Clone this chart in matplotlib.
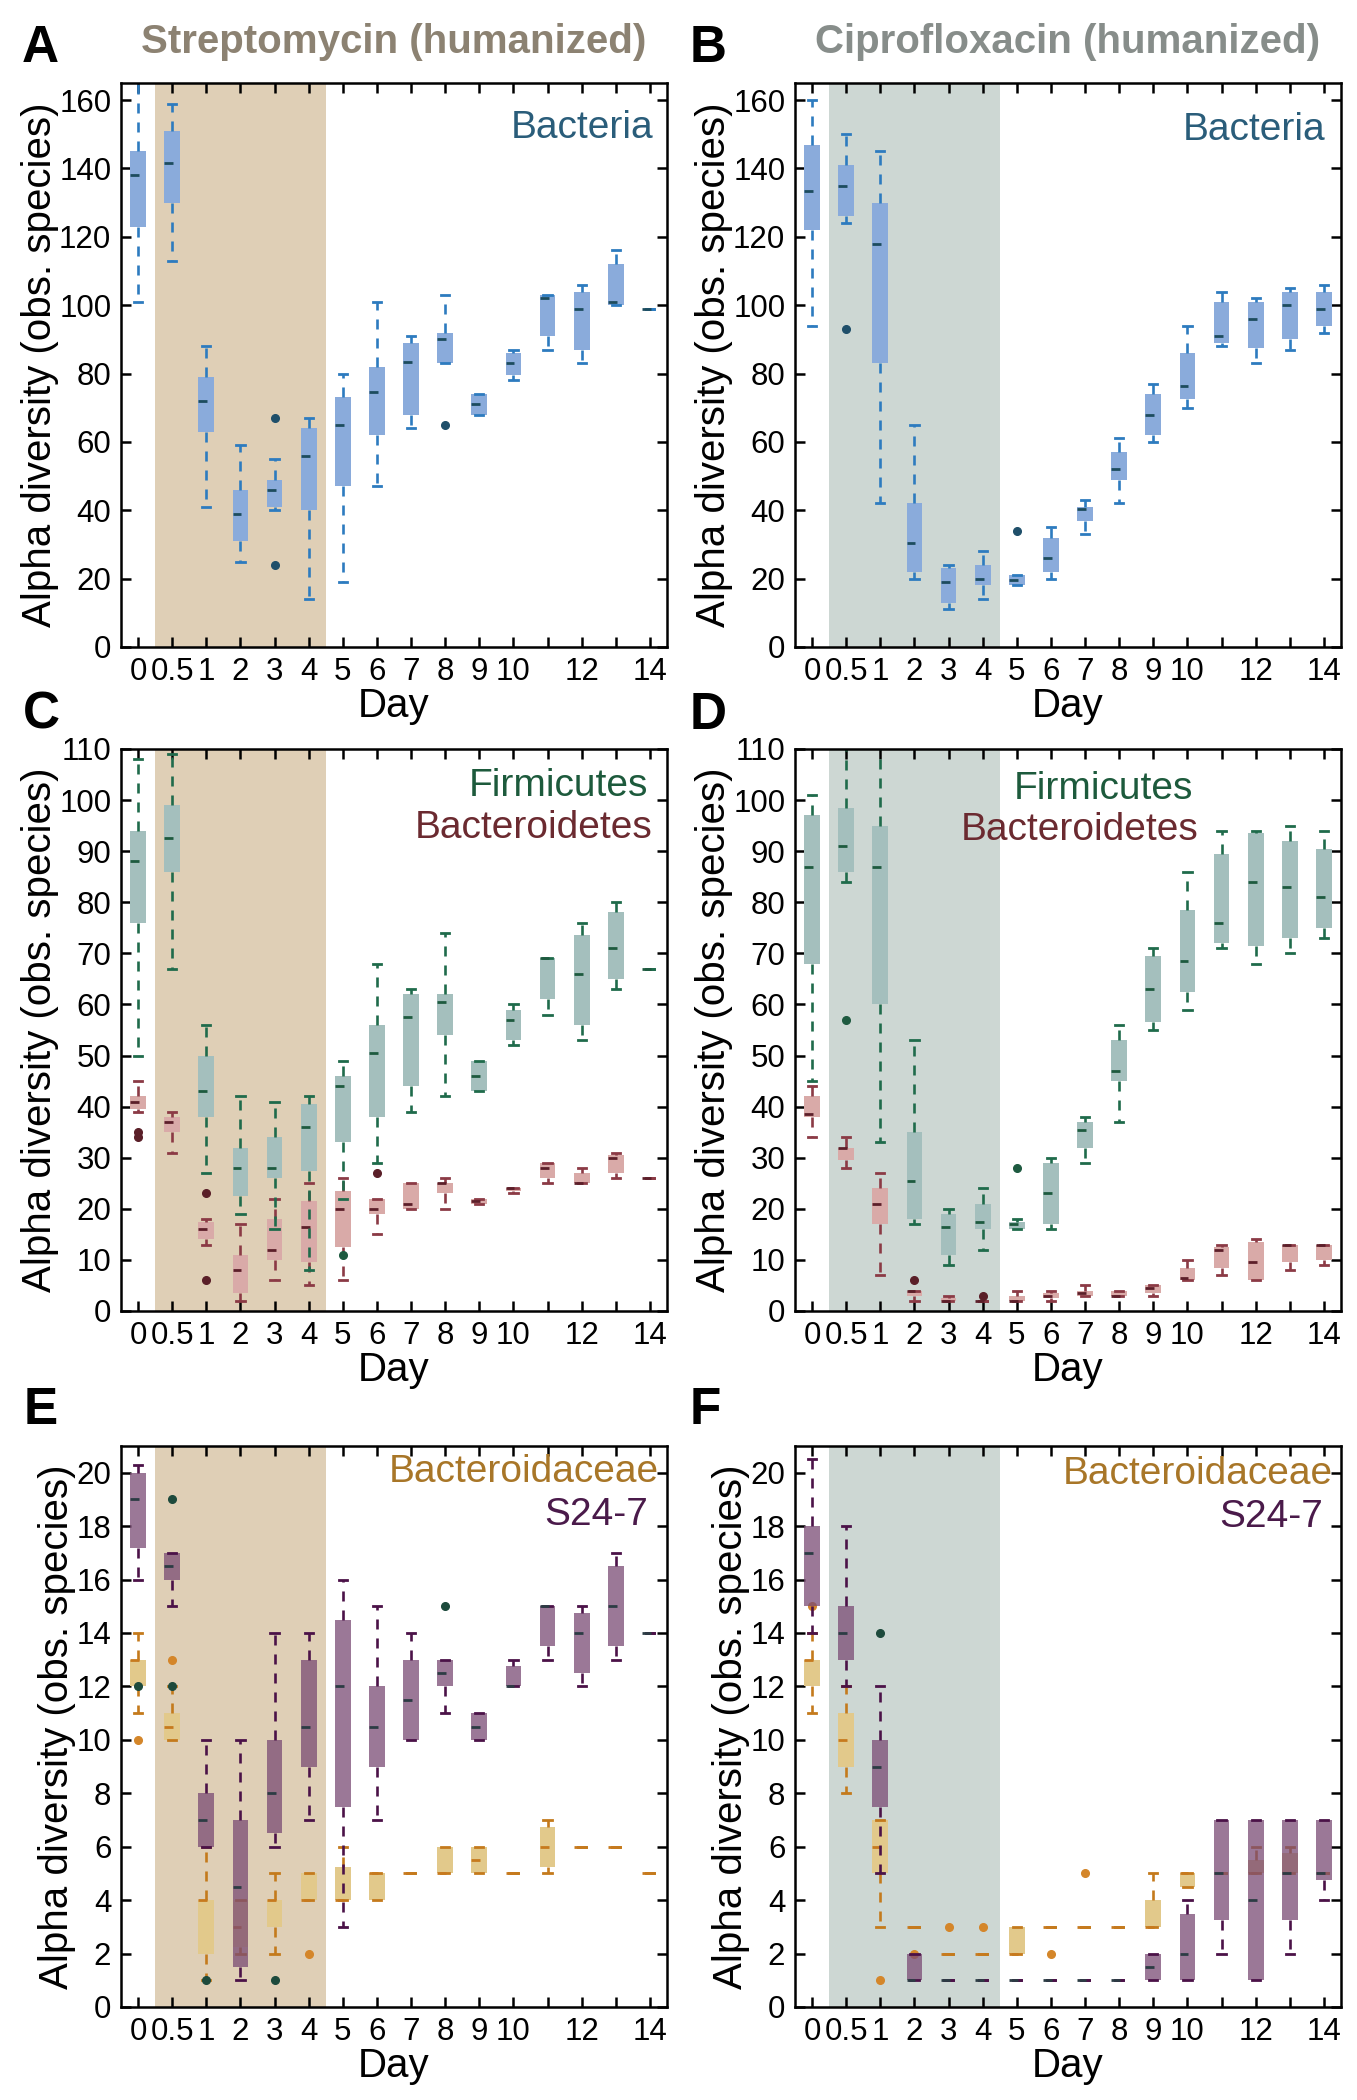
import numpy as np
import matplotlib
matplotlib.use('Agg')
import matplotlib.pyplot as plt

plt.rcParams['font.family'] = ['Liberation Sans', 'DejaVu Sans']

# Eixo x: dias (categorias igualmente espaçadas)
days = ['0', '0.5', '1', '2', '3', '4', '5', '6', '7', '8', '9', '10', '11', '12', '13', '14']
day_labels = ['0', '0.5', '1', '2', '3', '4', '5', '6', '7', '8', '9', '10', '', '12', '', '14']

# A - Streptomycin, Bacteria
sa_lo = [101, 113, 41, 25, 40, 14, 19, 47, 64, 83, 68, 78, 87, 83, 100, 99]
sa_q1 = [123, 130, 63, 31, 41, 40, 47, 62, 68, 83, 68, 79.5, 91, 87, 100, 99]
sa_med = [138, 141.5, 72, 39, 46, 56, 65, 74.5, 83.5, 90, 71, 83, 102, 99, 101, 99]
sa_q3 = [145, 151, 79, 46, 49, 64, 73, 82, 89, 92, 74, 86, 103, 104, 112, 99]
sa_hi = [170, 159, 88, 59, 55, 67, 80, 101, 91, 103, 74, 87, 103, 106, 116, 99]
sa_out = [[], [], [], [], [67, 24], [], [], [], [], [65], [], [], [], [], [], []]

# B - Ciprofloxacin, Bacteria
cb_lo = [94, 124, 42, 20, 11, 14, 18, 20, 33, 42, 60, 70, 88, 83, 87, 92]
cb_q1 = [122, 126, 83, 22, 13, 18, 18, 22, 37, 49, 62, 72.5, 89, 87.5, 90, 94]
cb_med = [133.5, 135, 118, 30.5, 19, 20, 19.5, 26, 40.5, 52, 68, 76.5, 91, 96, 100, 99]
cb_q3 = [147, 141, 130, 42, 23, 24, 21, 32, 41, 57, 74, 86, 101, 101, 104, 104]
cb_hi = [160, 150, 145, 65, 24, 28, 21, 35, 43, 61, 77, 94, 104, 102, 105, 106]
cb_out = [[], [93], [], [], [], [], [34], [], [], [], [], [], [], [], [], []]

# C - Streptomycin, Firmicutes
sf_lo = [50, 67, 27, 19, 16, 8, 22, 29, 39, 42, 43, 52, 58, 53, 63, 67]
sf_q1 = [76, 86, 38, 22.5, 26, 27.5, 33, 38, 44, 54, 43, 53, 61, 56, 65, 67]
sf_med = [88, 92.5, 43, 28, 28, 36, 44, 50.5, 57.5, 60.5, 46, 57, 69, 66, 71, 67]
sf_q3 = [94, 99, 50, 32, 34, 40.5, 46, 56, 62, 62, 49, 59, 69, 73.5, 78, 67]
sf_hi = [108, 109, 56, 42, 41, 42, 49, 68, 63, 74, 49, 60, 69, 76, 80, 67]
sf_out = [[], [], [], [], [], [], [11], [], [], [], [], [], [], [], [], []]

# C - Streptomycin, Bacteroidetes
sb_lo = [39, 31, 13, 2, 6, 5, 6, 15, 20, 20, 21, 23, 25, 25, 26, 26]
sb_q1 = [39.5, 35, 14, 3.5, 10, 9.5, 12.5, 19, 20, 23, 21, 23.5, 26, 25, 27, 26]
sb_med = [41, 37, 16, 8, 12, 16.5, 20, 20, 21, 25, 21.5, 24, 28, 25, 30, 26]
sb_q3 = [42, 38, 17.5, 11, 18, 21.5, 23.5, 22, 25, 25, 22, 24, 29, 27, 30.5, 26]
sb_hi = [45, 39, 18, 17, 22, 25, 26, 22, 25, 26, 22, 24, 29, 28, 31, 26]
sb_out = [[35, 34], [], [23, 6], [], [], [], [], [27], [], [], [], [], [], [], [], []]

# D - Ciprofloxacin, Firmicutes
cf_lo = [45, 84, 33, 17, 9, 12, 16, 16, 29, 37, 55, 59, 71, 68, 70, 73]
cf_q1 = [68, 86, 60, 18, 11, 16, 16, 17, 32, 45, 56.5, 62.5, 72, 71.5, 73, 75]
cf_med = [87, 91, 87, 25.5, 16.5, 17.5, 17, 23, 35.5, 47, 63, 68.5, 76, 84, 83, 81]
cf_q3 = [97, 98.5, 95, 35, 19, 21, 17.5, 29, 37, 53, 69.5, 78.5, 89.5, 93.5, 92, 90.5]
cf_hi = [101, 115, 115, 53, 20, 24, 18, 30, 38, 56, 71, 86, 94, 94, 95, 94]
cf_out = [[], [57], [], [], [], [], [28], [], [], [], [], [], [], [], [], []]

# D - Ciprofloxacin, Bacteroidetes
cd_lo = [34, 28, 7, 2, 2, 2, 2, 2, 3, 3, 3, 6, 7, 6, 8, 9]
cd_q1 = [38, 29.5, 17, 3, 2, 2, 2, 2.5, 3, 3, 3.5, 6, 8.5, 6, 9.5, 10]
cd_med = [38.5, 32, 21, 4, 2, 2, 2, 3, 3.5, 3, 4.5, 6.5, 12, 9.5, 13, 13]
cd_q3 = [42, 32, 24, 4, 2.5, 2, 3, 3.5, 4, 4, 5, 8.5, 12.5, 13.5, 13, 13]
cd_hi = [44, 34, 27, 4, 3, 2, 4, 4, 5, 4, 5, 10, 13, 14, 13, 13]
cd_out = [[], [], [], [6], [], [3], [], [], [], [], [], [], [], [], [], []]

# E - Streptomycin, S24-7
ss_lo = [16, 15, 6, 1, 6, 7, 3, 7, 10, 11, 10, 12, 13, 12, 13, 14]
ss_q1 = [17.2, 16, 6, 1.5, 6.5, 9, 7.5, 9, 10, 12, 10, 12, 13.5, 12.5, 13.5, 14]
ss_med = [19, 16.5, 7, 4.5, 8, 10.5, 12, 10.5, 11.5, 12.5, 10.5, 12, 15, 14, 15, 14]
ss_q3 = [20, 17, 8, 7, 10, 13, 14.5, 12, 13, 13, 11, 12.75, 15, 14.75, 16.5, 14]
ss_hi = [20.3, 17, 10, 10, 14, 14, 16, 15, 14, 13, 11, 13, 15, 15, 17, 14]
ss_out = [[12], [19, 12], [1], [], [1], [], [], [], [], [15], [], [], [], [], [], []]

# E - Streptomycin, Bacteroidaceae
sy_lo = [11, 10, 1, 2, 2, 4, 4, 4, 5, 5, 5, 5, 5, 6, 6, 5]
sy_q1 = [12, 10, 2, 2.25, 3, 4, 4, 4, 5, 5, 5, 5, 5.25, 6, 6, 5]
sy_med = [13, 10.5, 4, 3, 4, 4, 4, 5, 5, 5, 5.5, 5, 6, 6, 6, 5]
sy_q3 = [13, 11, 4, 4, 4, 5, 5.25, 5, 5, 6, 6, 5, 6.75, 6, 6, 5]
sy_hi = [14, 12, 6, 4, 5, 5, 6, 5, 5, 6, 6, 5, 7, 6, 6, 5]
sy_out = [[10], [13], [], [], [], [2], [], [], [], [], [], [], [], [], [], []]

# F - Ciprofloxacin, S24-7
cs_lo = [14, 12, 5, 1, 1, 1, 1, 1, 1, 1, 1, 1, 2, 1, 2, 4]
cs_q1 = [15, 13, 7.5, 1, 1, 1, 1, 1, 1, 1, 1, 1, 3.25, 1, 3.25, 4.75]
cs_med = [17, 14, 9, 1, 1, 1, 1, 1, 1, 1, 1.5, 2, 5, 4, 5, 5]
cs_q3 = [18, 15, 10, 2, 1, 1, 1, 1, 1, 1, 2, 3.5, 7, 7, 7, 7]
cs_hi = [20.5, 18, 12, 2, 1, 1, 1, 1, 1, 1, 2, 4, 7, 7, 7, 7]
cs_out = [[], [], [14], [], [], [], [], [], [], [], [], [], [], [], [], []]

# F - Ciprofloxacin, Bacteroidaceae
cy_lo = [11, 8, 3, 3, 2, 2, 2, 3, 3, 3, 3, 4.5, 5, 5, 5, 5]
cy_q1 = [12, 9, 5, 3, 2, 2, 2, 3, 3, 3, 3, 4.5, 5, 5, 5, 5]
cy_med = [13, 10, 6, 3, 2, 2, 2, 3, 3, 3, 3, 5, 5, 5, 5, 5]
cy_q3 = [13, 11, 7, 3, 2, 2, 3, 3, 3, 3, 4, 5, 5, 5.5, 5.75, 5]
cy_hi = [14, 12, 7, 3, 2, 2, 3, 3, 3, 3, 5, 5, 5, 6, 6, 5]
cy_out = [[15], [], [1], [2], [3], [3], [], [2], [5], [], [], [], [], [], [], []]

# Cores
cores = {
    'bact': dict(face='#8aabdb', line='#2d7bbf', med='#1d4c5e', flier='#1f4f6a', alpha=1.0),
    'firm': dict(face='#a4bfbd', line='#1f6b4b', med='#1e5a3f', flier='#1e5a40', alpha=1.0),
    'bcto': dict(face='#d9aaa8', line='#8b3a45', med='#5c1f2a', flier='#5a1f28', alpha=1.0),
    'bcae': dict(face='#e2c98b', line='#c47a1c', med='#c77a1e', flier='#d4862a', alpha=1.0),
    's247': dict(face='#7a4b74', line='#4b1248', med='#2c3c44', flier='#1d4a3c', alpha=0.75),
}
shade_strep = '#dfcfb6'
shade_cipro = '#cdd7d3'

W, H = 1357, 2100
BW = 0.46


def desenha_serie(ax, lo, q1, med, q3, hi, out, c):
    pos = np.arange(len(days))
    stats = []
    for i in range(len(days)):
        stats.append(dict(whislo=lo[i], q1=q1[i], med=med[i], q3=q3[i], whishi=hi[i], fliers=out[i]))
    ax.bxp(stats, positions=pos, widths=BW, patch_artist=True, manage_ticks=False,
           capwidths=0.24,
           boxprops=dict(facecolor=c['face'], edgecolor='none', linewidth=0, alpha=c['alpha']),
           whiskerprops=dict(color=c['line'], linewidth=1.9, linestyle=(0, (3.8, 3.4))),
           capprops=dict(color=c['line'], linewidth=2.0),
           medianprops=dict(visible=False),
           flierprops=dict(marker='o', markerfacecolor=c['flier'], markeredgecolor=c['flier'],
                           markersize=5.5, linestyle='none'))
    # mediana: do lado esquerdo da caixa até o centro
    ax.hlines(med, pos - BW / 2, pos + 0.03, colors=c['med'], linewidth=2.0, zorder=2)


def prepara_eixo(ax, ymax, yticks, shade):
    ax.axvspan(0.5, 5.5, color=shade, lw=0, zorder=0)
    ax.set_xlim(-0.5, 15.5)
    ax.set_ylim(0, ymax)
    ax.set_xticks(np.arange(len(days)))
    ax.set_xticklabels(day_labels)
    ax.set_yticks(yticks)
    ax.tick_params(direction='in', length=7, width=1.8, labelsize=22.5, pad=7,
                   top=True, right=True)
    for s in ax.spines.values():
        s.set_linewidth(1.8)
    ax.set_xlabel('Day', fontsize=29, labelpad=0)
    ax.set_ylabel('Alpha diversity (obs. species)', fontsize=29, labelpad=0)


def caixa(l, t, b):
    return [l / W, 1 - b / H, 546 / W, (b - t) / H]


fig = plt.figure(figsize=(W / 100, H / 100), dpi=100)
axA = fig.add_axes(caixa(121, 83, 647))
axB = fig.add_axes(caixa(795, 83, 647))
axC = fig.add_axes(caixa(121, 749, 1311))
axD = fig.add_axes(caixa(795, 749, 1311))
axE = fig.add_axes(caixa(121, 1446, 2007))
axF = fig.add_axes(caixa(795, 1446, 2007))

prepara_eixo(axA, 165, np.arange(0, 161, 20), shade_strep)
prepara_eixo(axB, 165, np.arange(0, 161, 20), shade_cipro)
prepara_eixo(axC, 110, np.arange(0, 111, 10), shade_strep)
prepara_eixo(axD, 110, np.arange(0, 111, 10), shade_cipro)
prepara_eixo(axE, 21, np.arange(0, 21, 2), shade_strep)
prepara_eixo(axF, 21, np.arange(0, 21, 2), shade_cipro)

desenha_serie(axA, sa_lo, sa_q1, sa_med, sa_q3, sa_hi, sa_out, cores['bact'])
desenha_serie(axB, cb_lo, cb_q1, cb_med, cb_q3, cb_hi, cb_out, cores['bact'])
desenha_serie(axC, sb_lo, sb_q1, sb_med, sb_q3, sb_hi, sb_out, cores['bcto'])
desenha_serie(axC, sf_lo, sf_q1, sf_med, sf_q3, sf_hi, sf_out, cores['firm'])
desenha_serie(axD, cd_lo, cd_q1, cd_med, cd_q3, cd_hi, cd_out, cores['bcto'])
desenha_serie(axD, cf_lo, cf_q1, cf_med, cf_q3, cf_hi, cf_out, cores['firm'])
desenha_serie(axE, sy_lo, sy_q1, sy_med, sy_q3, sy_hi, sy_out, cores['bcae'])
desenha_serie(axE, ss_lo, ss_q1, ss_med, ss_q3, ss_hi, ss_out, cores['s247'])
desenha_serie(axF, cy_lo, cy_q1, cy_med, cy_q3, cy_hi, cy_out, cores['bcae'])
desenha_serie(axF, cs_lo, cs_q1, cs_med, cs_q3, cs_hi, cs_out, cores['s247'])

# Rótulos dos grupos dentro dos painéis
fs = 28
axA.text(0.975, 0.902, 'Bacteria', color='#2a5d7a', fontsize=fs, ha='right', va='baseline', transform=axA.transAxes)
axB.text(0.972, 0.899, 'Bacteria', color='#2a5d7a', fontsize=fs, ha='right', va='baseline', transform=axB.transAxes)
axC.text(0.965, 0.917, 'Firmicutes', color='#1d5a3c', fontsize=fs, ha='right', va='baseline', transform=axC.transAxes)
axC.text(0.973, 0.842, 'Bacteroidetes', color='#6b2a30', fontsize=fs, ha='right', va='baseline', transform=axC.transAxes)
axD.text(0.730, 0.911, 'Firmicutes', color='#1d5a3c', fontsize=fs, ha='right', va='baseline', transform=axD.transAxes)
axD.text(0.739, 0.838, 'Bacteroidetes', color='#6b2a30', fontsize=fs, ha='right', va='baseline', transform=axD.transAxes)
axE.text(0.985, 0.935, 'Bacteroidaceae', color='#a87628', fontsize=fs, ha='right', va='baseline', transform=axE.transAxes)
axE.text(0.966, 0.859, 'S24-7', color='#4a1a4a', fontsize=fs, ha='right', va='baseline', transform=axE.transAxes)
axF.text(0.986, 0.932, 'Bacteroidaceae', color='#a87628', fontsize=fs, ha='right', va='baseline', transform=axF.transAxes)
axF.text(0.968, 0.856, 'S24-7', color='#4a1a4a', fontsize=fs, ha='right', va='baseline', transform=axF.transAxes)

# Títulos das colunas
fig.text((121 + 273) / W, 1 - 42 / H, 'Streptomycin (humanized)', color='#8c8272',
         fontsize=29, fontweight='bold', ha='center', va='center')
fig.text((795 + 273) / W, 1 - 42 / H, 'Ciprofloxacin (humanized)', color='#878d8a',
         fontsize=29, fontweight='bold', ha='center', va='center')

# Letras dos painéis
letras = [('A', 22, 49), ('B', 690, 49), ('C', 23, 715), ('D', 690, 716), ('E', 24, 1411), ('F', 690, 1411)]
for letra, x, y in letras:
    fig.text(x / W, 1 - y / H, letra, fontsize=37, fontweight='bold', ha='left', va='center')

fig.savefig('out.png', dpi=100)
